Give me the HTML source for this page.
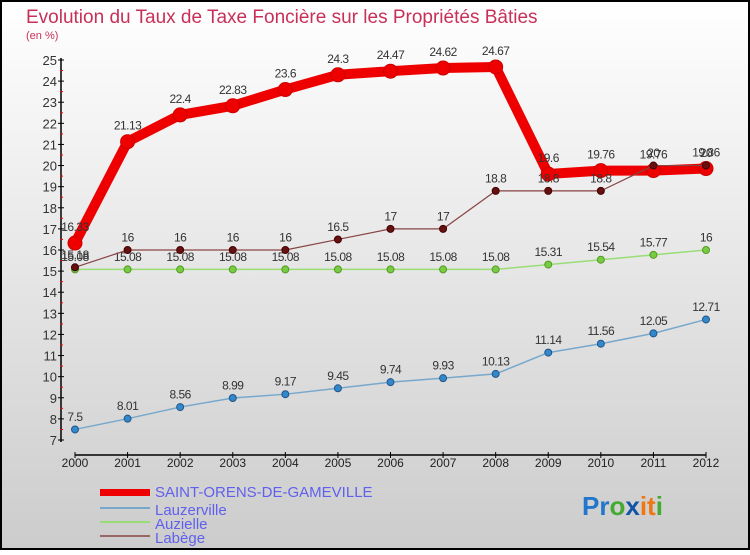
<!DOCTYPE html>
<html><head><meta charset="utf-8"><style>
body{margin:0;width:750px;height:550px;overflow:hidden;font-family:"Liberation Sans",sans-serif}
</style></head><body>
<svg id="chart" width="750" height="550" xmlns="http://www.w3.org/2000/svg" font-family="Liberation Sans, sans-serif">
<defs><linearGradient id="bg" x1="0" y1="0" x2="0" y2="1"><stop offset="0" stop-color="#ffffff"/><stop offset="1" stop-color="#cccccc"/></linearGradient></defs>
<rect x="1" y="1" width="748" height="548" fill="url(#bg)" stroke="#000" stroke-width="2"/>
<text x="26" y="23" font-size="19" fill="#c8305a" font-weight="normal">Evolution du Taux de Taxe Foncière sur les Propriétés Bâties</text>
<text x="26" y="39" font-size="11" fill="#c8305a">(en %)</text>
<g id="axes"></g><g id="series"></g>
<g>
<rect x="100" y="489" width="50" height="7" fill="#ee0000"/>
<text x="155" y="497" font-size="15" fill="#6060ee">SAINT-ORENS-DE-GAMEVILLE</text>
<rect x="100" y="507" width="50" height="2" fill="#77a8cc"/>
<text x="155" y="515" font-size="15" fill="#6060ee">Lauzerville</text>
<rect x="100" y="521" width="50" height="2" fill="#99dd77"/>
<text x="155" y="529" font-size="15" fill="#6060ee">Auzielle</text>
<rect x="100" y="535" width="50" height="2" fill="#996666"/>
<text x="155" y="543" font-size="15" fill="#6060ee">Labège</text>
</g>
<text x="582" y="515" font-size="26" font-weight="600"><tspan fill="#2277cc">Pr</tspan><tspan fill="#44aa33">o</tspan><tspan fill="#1155aa">x</tspan><tspan fill="#ee7711">it</tspan><tspan fill="#44aa33">i</tspan></text>
</svg>
<script>
const years=[2000,2001,2002,2003,2004,2005,2006,2007,2008,2009,2010,2011,2012];
const saintOrens=[16.33,21.13,22.4,22.83,23.6,24.3,24.47,24.62,24.67,19.6,19.76,19.76,19.86];
const lauzerville=[7.5,8.01,8.56,8.99,9.17,9.45,9.74,9.93,10.13,11.14,11.56,12.05,12.71];
const auzielle=[15.08,15.08,15.08,15.08,15.08,15.08,15.08,15.08,15.08,15.31,15.54,15.77,16];
const labege=[15.18,16,16,16,16,16.5,17,17,18.8,18.8,18.8,20,20];
const yTicks=[7,8,9,10,11,12,13,14,15,16,17,18,19,20,21,22,23,24,25];
const NS="http://www.w3.org/2000/svg";
const x=i=>75+i*(706-75)/(years.length-1);
const y=v=>440-(v-7)*(440-60)/18;
function mk(tag,attrs,parent){const e=document.createElementNS(NS,tag);for(const k in attrs)e.setAttribute(k,attrs[k]);parent.appendChild(e);return e;}
const ax=document.getElementById('axes');
let a=mk('line',{x1:61,y1:58,x2:61,y2:442,stroke:'#000','stroke-width':1.5},ax);


a=mk('line',{x1:75,y1:455,x2:706,y2:455,stroke:'#000','stroke-width':1.5},ax);


yTicks.forEach(v=>{
 mk('line',{x1:58,y1:y(v),x2:64,y2:y(v),stroke:'#000'},ax);
 if(v<25) mk('line',{x1:60,y1:y(v+0.5),x2:63,y2:y(v+0.5),stroke:'#e00'},ax);
 const t=mk('text',{x:57,y:y(v)+5,'font-size':13,fill:'#333','text-anchor':'end'},ax);
 t.textContent=v;
 
 
});
years.forEach((yr,i)=>{
 mk('line',{x1:x(i),y1:452,x2:x(i),y2:458,stroke:'#000'},ax);
 const t=mk('text',{x:x(i),y:467,'font-size':12,fill:'#222','text-anchor':'middle'},ax);
 t.textContent=yr;
 
 
});
const sg=document.getElementById('series');
function series(data,name,color,w,r,dot,dotStroke){
 const g=mk('g',{},sg);
 
 
 mk('polyline',{points:data.map((v,i)=>x(i)+','+y(v)).join(' '),fill:'none',stroke:color,'stroke-width':w,'stroke-linejoin':'round'},g);
 data.forEach((v,i)=>{
  const c=mk('circle',{cx:x(i),cy:y(v),r:r,fill:dot,stroke:dotStroke,'stroke-width':1},g);
  
  
  const t=mk('text',{x:x(i),y:y(v)-r-5,'font-size':12,fill:'#333','text-anchor':'middle','letter-spacing':'-0.5'},g);
  t.textContent=v;
  
  
 });
}
series(lauzerville,'lauzerville','#77a8cc',1.5,3.5,'#3388cc','#225588');
series(auzielle,'auzielle','#99dd77',1.5,3.5,'#77cc44','#559922');
series(saintOrens,'saint-orens','#ee0000',10,7,'#ee0000','#cc0000');
series(labege,'labege','#884444',1.2,3.5,'#661111','#440000');
</script>
</body></html>
